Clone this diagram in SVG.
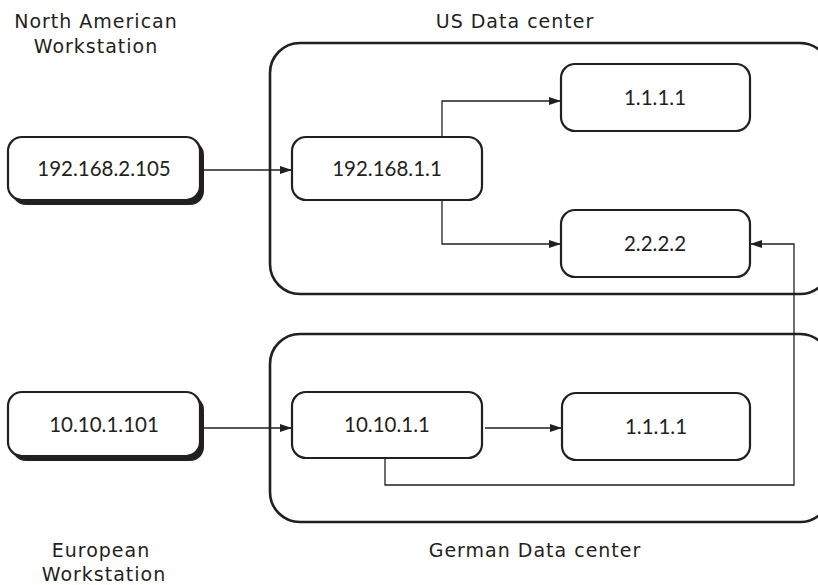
<svg xmlns="http://www.w3.org/2000/svg" width="818" height="585" viewBox="0 0 818 585">
  <style>
    .frame { fill: none; stroke: #231f20; stroke-width: 2.6; }
    .box { fill: #ffffff; stroke: #231f20; stroke-width: 2.2; }
    .shadow { fill: #231f20; }
    .ip { font-family: Lato, "Open Sans", "Liberation Sans", sans-serif; font-size: 20.5px; fill: #231f20; text-anchor: middle; }
    .label { font-family: "DejaVu Sans", "Liberation Sans", sans-serif; font-size: 19px; letter-spacing: 1px; fill: #231f20; text-anchor: middle; }
    .wire { fill: none; stroke: #231f20; stroke-width: 1.3; }
  </style>
  <defs>
    <marker id="arrow" viewBox="0 0 12 8" refX="12" refY="4" markerWidth="12" markerHeight="8" markerUnits="userSpaceOnUse" orient="auto">
      <path d="M0,0 L12,4 L0,8 Z" fill="#231f20"/>
    </marker>
  </defs>
  <rect width="818" height="585" fill="#ffffff"/>

  <!-- data center frames (run off the right edge) -->
  <g id="us-datacenter">
    <rect class="frame" x="270" y="43" width="560" height="251" rx="30" ry="30"/>
    <text class="label" x="515" y="28">US Data center</text>
  </g>
  <g id="german-datacenter">
    <rect class="frame" x="270" y="334" width="560" height="188" rx="30" ry="30"/>
    <text class="label" x="535" y="557">German Data center</text>
  </g>

  <!-- workstations -->
  <g id="na-workstation">
    <rect class="shadow" x="12" y="141" width="192" height="64" rx="14" ry="14"/>
    <rect class="box" x="8" y="137" width="192" height="63" rx="14" ry="14"/>
    <text class="ip" x="104" y="176">192.168.2.105</text>
    <text class="label" x="96" y="28">North American</text>
    <text class="label" x="96" y="53">Workstation</text>
  </g>
  <g id="eu-workstation">
    <rect class="shadow" x="12" y="396" width="192" height="65" rx="14" ry="14"/>
    <rect class="box" x="8" y="392" width="192" height="64" rx="14" ry="14"/>
    <text class="ip" x="104" y="432">10.10.1.101</text>
    <text class="label" x="101" y="557">European</text>
    <text class="label" x="104" y="581">Workstation</text>
  </g>

  <!-- US hosts -->
  <g id="us-gateway">
    <rect class="box" x="292" y="137" width="190" height="63" rx="14" ry="14"/>
    <text class="ip" x="387" y="176">192.168.1.1</text>
  </g>
  <g id="us-host-1111">
    <rect class="box" x="561" y="64" width="189" height="67" rx="14" ry="14"/>
    <text class="ip" x="655" y="105">1.1.1.1</text>
  </g>
  <g id="us-host-2222">
    <rect class="box" x="561" y="210" width="189" height="67" rx="14" ry="14"/>
    <text class="ip" x="655" y="251">2.2.2.2</text>
  </g>

  <!-- German hosts -->
  <g id="de-gateway">
    <rect class="box" x="292" y="392" width="190" height="66" rx="14" ry="14"/>
    <text class="ip" x="387" y="432">10.10.1.1</text>
  </g>
  <g id="de-host-1111">
    <rect class="box" x="562" y="393" width="188" height="67" rx="14" ry="14"/>
    <text class="ip" x="656" y="434">1.1.1.1</text>
  </g>

  <!-- connectors -->
  <g id="connectors">
    <path class="wire" d="M204,170 H292" marker-end="url(#arrow)"/>
    <path class="wire" d="M442,137 V101 H561" marker-end="url(#arrow)"/>
    <path class="wire" d="M442,200 V244 H561" marker-end="url(#arrow)"/>
    <path class="wire" d="M204,428 H292" marker-end="url(#arrow)"/>
    <path class="wire" d="M485,428 H562" marker-end="url(#arrow)"/>
    <path class="wire" d="M385,458 V485 H794 V244 H750" marker-end="url(#arrow)"/>
  </g>
</svg>
